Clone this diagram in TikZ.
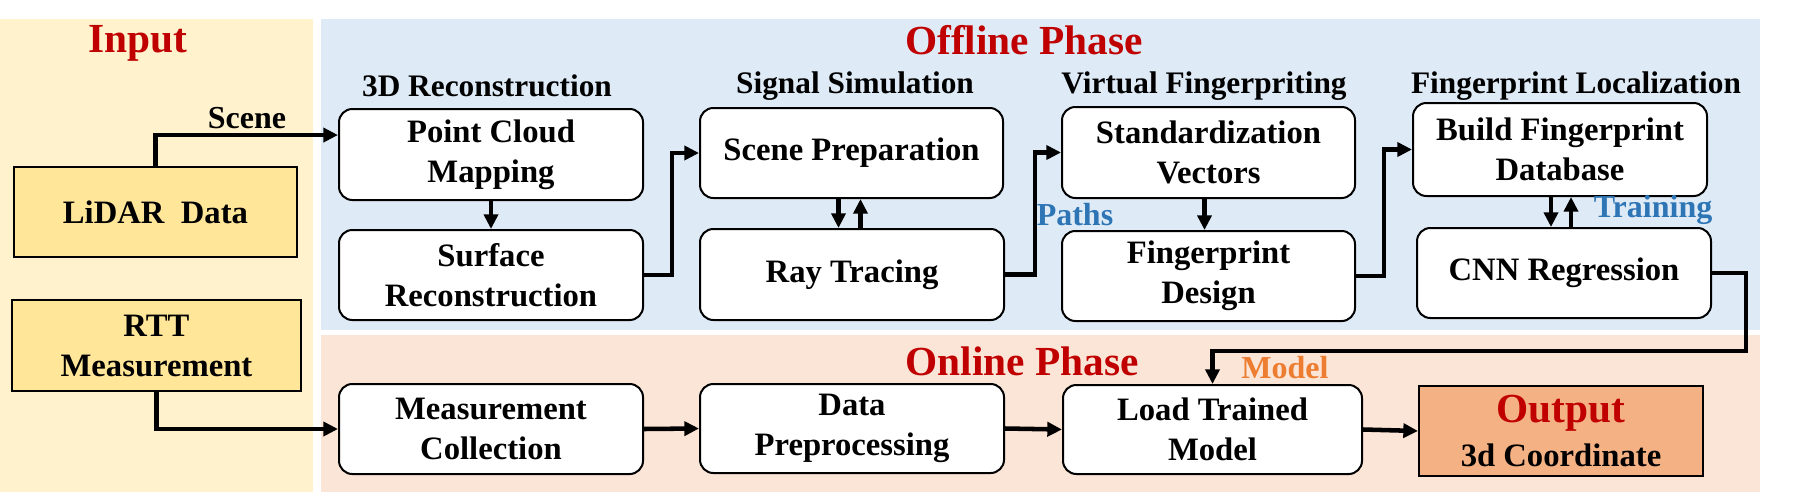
\documentclass[tikz,border=0pt]{standalone}
\usepackage{fontspec}
\setmainfont{Liberation Serif}
\usetikzlibrary{arrows.meta,calc}
\definecolor{inbg}{HTML}{FFF2CC}
\definecolor{offbg}{HTML}{DEEBF7}
\definecolor{onbg}{HTML}{FBE5D6}
\definecolor{yel}{HTML}{FFE699}
\definecolor{outfill}{HTML}{F4B183}
\definecolor{tred}{HTML}{C00000}
\definecolor{tblue}{HTML}{2E75B6}
\definecolor{torange}{HTML}{ED7D31}
\newcommand\mkbox[7][box]{\node[#1, minimum width={(#5-#3)*0.75pt}, minimum height={(#6-#4)*0.75pt}] (#2) at ({(#3+#5)/2},{(#4+#6)/2}) {#7};}
\begin{document}
\begin{tikzpicture}[x=0.75pt,y=-0.75pt,
  box/.style={draw, line width=1.5pt, rounded corners=10pt, fill=white, align=center, inner sep=0pt,
    font=\bfseries\fontsize{24.5}{30}\selectfont},
  inbox/.style={box, rounded corners=0pt, fill=yel},
  outbox/.style={box, rounded corners=0pt, fill=outfill},
  title/.style={font=\bfseries\fontsize{31}{36}\selectfont, text=tred, inner sep=0pt},
  head/.style={font=\bfseries\fontsize{23.5}{28}\selectfont, inner sep=0pt},
  lab/.style={font=\bfseries\fontsize{24}{28}\selectfont, inner sep=0pt},
  arr/.style={line width=3.4pt, -{Triangle[length=11pt,width=10.5pt]}}
]
\useasboundingbox (0,0) rectangle (1797,492);
% panels
\fill[inbg] (0,19) rectangle (313,492);
\fill[offbg] (321,19) rectangle (1760,330);
\fill[onbg] (321,335) rectangle (1760,492);
% titles
\node[title] (tin) at (138,43) {Input};
\node[title] (toff) at (1024,40) {Offline Phase};
\node[title] (ton) at (1022,361) {Online Phase};
% section heads
\node[head] (h1) at (487,86) {3D Reconstruction};
\node[head] (h2) at (855,86) {Signal Simulation};
\node[head] (h3) at (1204,86) {Virtual Fingerpriting};
\node[head] (h4) at (1576,86) {Fingerprint Localization};
% boxes
\mkbox[inbox]{lidar}{14}{167}{297}{257}{LiDAR~ Data}
\mkbox[inbox]{rtt}{12}{300}{301}{391}{RTT\\Measurement}
\mkbox{pcm}{339}{109}{643}{200}{Point Cloud\\Mapping}
\mkbox{surf}{339}{230}{643}{320}{Surface\\Reconstruction}
\mkbox{sp}{700}{108}{1003}{198}{Scene Preparation}
\mkbox{ray}{700}{229}{1004}{320}{Ray Tracing}
\mkbox{std}{1062}{107}{1355}{198}{Standardization\\Vectors}
\mkbox{fd}{1062}{231}{1355}{321}{Fingerprint\\Design}
\mkbox{bfd}{1413}{103}{1707}{196}{Build Fingerprint\\Database}
\mkbox{cnn}{1417}{228}{1711}{318}{CNN Regression}
\mkbox{meas}{339}{384}{643}{474}{Measurement\\Collection}
\mkbox{dp}{700}{384}{1004}{473}{Data\\Preprocessing}
\mkbox{load}{1063}{385}{1362}{474}{Load Trained\\Model}
\mkbox[outbox]{out}{1419}{386}{1703}{476}{{\fontsize{31}{31}\selectfont\color{tred}Output}\\[3pt]3d Coordinate}
% labels
\node[lab] (lscene) at (247,118) {Scene};
\node[lab, text=tblue] (lpaths) at (1075,215) {Paths};
\node[lab, text=tblue] (ltrain) at (1653,210) {Training};
\node[lab, text=torange] (lmodel) at (1285,368) {Model};
% helper coordinates for parallel arrows
\coordinate (spd) at ($(sp.south)+(-13,0)$);
\coordinate (spu) at ($(sp.south)+(9,0)$);
\coordinate (stdd) at ($(std.south)+(-4,0)$);
\coordinate (bfdd) at ($(bfd.south)+(-9,0)$);
\coordinate (bfdu) at ($(bfd.south)+(11,0)$);
\coordinate (cm) at (1746,351);
% connectors
\draw[arr] (lidar.north) |- ([yshift=14.6pt]pcm.west);
\draw[arr] (pcm.south) -- (surf.north);
\draw[arr] (surf.east) -- ++(28,0) |- (sp.west);
\draw[arr] (spd) -- (spd |- ray.north);
\draw[arr] (spu |- ray.north) -- (spu);
\draw[arr] (ray.east) -- ++(30,0) |- (std.west);
\draw[arr] (stdd) -- (stdd |- fd.north);
\draw[arr] (fd.east) -- ++(28,0) |- (bfd.west);
\draw[arr] (bfdd) -- (bfdd |- cnn.north);
\draw[arr] (bfdu |- cnn.north) -- (bfdu);
\draw[arr] (cnn.east) -| (cm) -| (load.north);
\draw[arr] (rtt.south) |- (meas.west);
\draw[arr] (meas.east) -- (dp.west);
\draw[arr] (dp.east) -- (load.west);
\draw[arr] (load.east) -- (out.west);
\end{tikzpicture}
\end{document}
